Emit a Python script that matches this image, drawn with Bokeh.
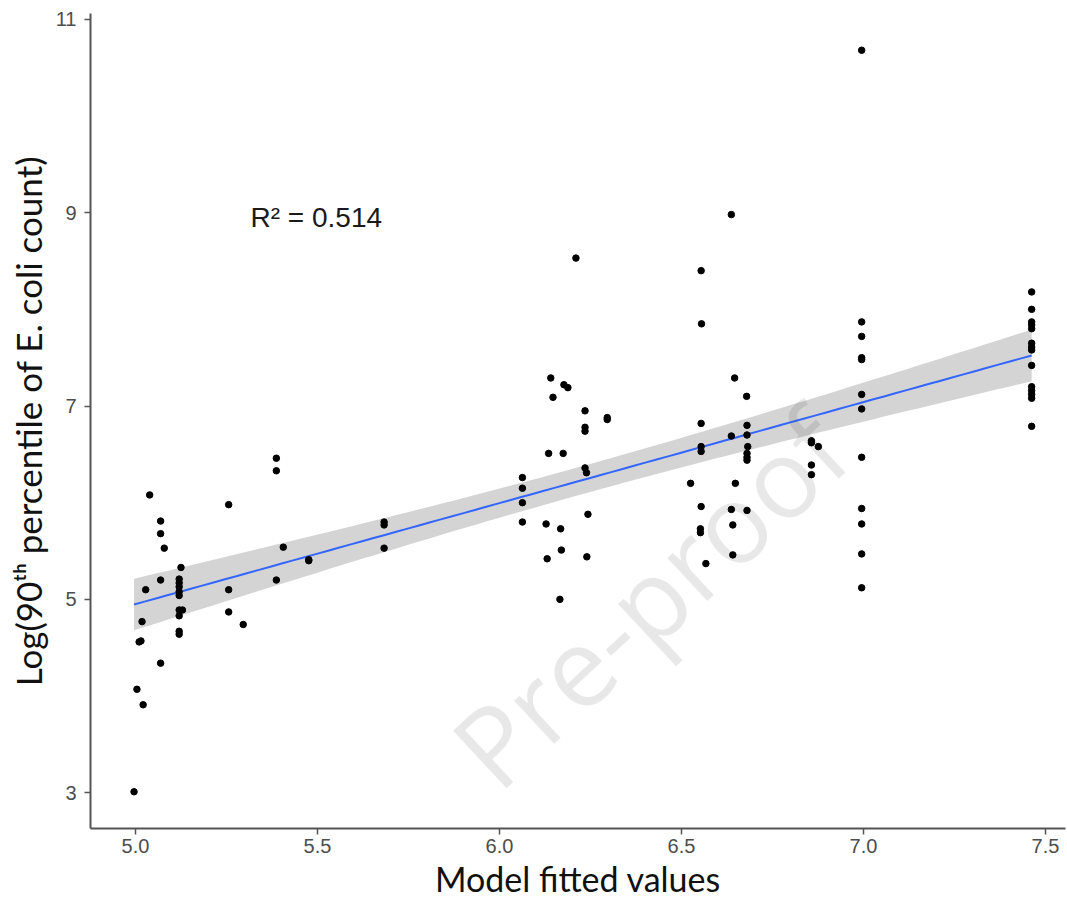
import numpy as np
from bokeh.plotting import figure
from bokeh.models import Range1d, FixedTicker, Label, NumeralTickFormatter
from bokeh.embed import file_html
from bokeh.resources import INLINE

# ---- data ----
fitted = [
    5.039, 5.069, 5.069, 5.079, 5.125, 5.069, 5.028, 5.12, 5.12, 5.12, 5.12, 5.12,
    5.018, 5.12, 5.129, 5.12, 5.12, 5.12, 5.010, 5.015, 5.069, 5.004, 5.021, 4.996,
    5.256, 5.256, 5.256, 5.296,
    5.387, 5.387, 5.406, 5.387, 5.476, 5.476,
    5.683, 5.683, 5.683,
    6.210, 6.141, 6.177, 6.188, 6.147, 6.235, 6.296, 6.296, 6.235, 6.235, 6.135,
    6.175, 6.235, 6.239, 6.063, 6.063, 6.063, 6.063, 6.128, 6.168, 6.243, 6.170,
    6.131, 6.240, 6.166,
    6.637, 6.554, 6.555, 6.646, 6.679, 6.554, 6.680, 6.637, 6.680, 6.554, 6.554,
    6.682, 6.680, 6.680, 6.680, 6.525, 6.648, 6.554, 6.637, 6.680, 6.641, 6.552,
    6.552, 6.641, 6.567,
    6.857, 6.857, 6.876, 6.857, 6.857,
    6.995, 6.995, 6.995, 6.995, 6.995, 6.995, 6.995, 6.995, 6.995, 6.995, 6.995, 6.995,
    7.462, 7.462, 7.462, 7.462, 7.462, 7.462, 7.462, 7.462, 7.462, 7.462, 7.462,
    7.462, 7.462, 7.462,
]
observed = [
    6.08, 5.81, 5.68, 5.53, 5.33, 5.20, 5.10, 5.21, 5.17, 5.13, 5.08, 5.04,
    4.77, 4.89, 4.89, 4.83, 4.67, 4.64, 4.56, 4.57, 4.34, 4.07, 3.91, 3.01,
    5.98, 5.10, 4.87, 4.74,
    6.46, 6.33, 5.54, 5.20, 5.41, 5.40,
    5.80, 5.77, 5.53,
    8.53, 7.29, 7.22, 7.19, 7.09, 6.95, 6.88, 6.86, 6.78, 6.74, 6.51,
    6.51, 6.36, 6.31, 6.26, 6.15, 6.00, 5.80, 5.78, 5.73, 5.88, 5.51,
    5.42, 5.44, 5.00,
    8.98, 8.40, 7.85, 7.29, 7.10, 6.82, 6.80, 6.69, 6.70, 6.58, 6.53,
    6.58, 6.51, 6.47, 6.44, 6.20, 6.20, 5.96, 5.93, 5.92, 5.77, 5.73,
    5.69, 5.46, 5.37,
    6.64, 6.62, 6.58, 6.39, 6.29,
    10.68, 7.87, 7.72, 7.50, 7.48, 7.12, 6.97, 6.47, 5.94, 5.78, 5.47, 5.12,
    8.18, 8.00, 7.87, 7.84, 7.80, 7.65, 7.61, 7.58, 7.42, 7.20, 7.16,
    7.12, 7.08, 6.79,
]
x_ticks = [5.0, 5.5, 6.0, 6.5, 7.0, 7.5]
y_ticks = [3, 5, 7, 9, 11]
r2_text = "R\u00b2 = 0.514"

# ---- linear fit with 95% confidence band ----
xa = np.array(fitted)
ya = np.array(observed)
n = len(xa)
slope, intercept = np.polyfit(xa, ya, 1)
resid = ya - (intercept + slope * xa)
s = np.sqrt(np.sum(resid ** 2) / (n - 2))
sxx = np.sum((xa - xa.mean()) ** 2)
xs = np.linspace(xa.min(), xa.max(), 80)
fit = intercept + slope * xs
half = 1.98 * s * np.sqrt(1.0 / n + (xs - xa.mean()) ** 2 / sxx)

p = figure(width=1067, height=904,
           x_range=Range1d(4.8764, 7.555), y_range=Range1d(2.63, 11.06),
           output_backend="svg", toolbar_location=None,
           min_border_left=90, min_border_right=2, min_border_top=13,
           min_border_bottom=76)
p.xgrid.visible = False
p.ygrid.visible = False
p.outline_line_color = None
p.background_fill_color = "white"

p.varea(x=xs, y1=fit - half, y2=fit + half, fill_color="#d4d4d4", fill_alpha=1.0)
p.line(xs, fit, line_color="#3366FF", line_width=2)
p.scatter(fitted, observed, size=6.5, fill_color="black", line_color="black")

p.add_layout(Label(x=5.316, y=8.95, text=r2_text, text_font="Liberation Sans",
                   text_font_size="28px", text_color="#1a1a1a",
                   text_baseline="middle"))

# watermark (translucent overlay, like the reference's stamp)
wm = Label(x=6.058, y=2.73, text="Pre-proof", angle=0.75,
           text_font="Open Sans", text_font_size="110px",
           text_color="black", text_alpha=0.09)
p.add_layout(wm)

for ax in (p.xaxis, p.yaxis):
    ax.axis_line_color = "#555555"
    ax.axis_line_width = 2
    ax.major_tick_line_color = "#555555"
    ax.major_tick_line_width = 1.5
    ax.major_tick_out = 6
    ax.major_tick_in = 0
    ax.minor_tick_line_color = None
    ax.major_label_text_font = "Liberation Sans"
    ax.major_label_text_font_size = "20px"
    ax.major_label_text_color = "#4d4d4d"
    ax.axis_label_text_font = "Lato"
    ax.axis_label_text_font_style = "normal"
    ax.axis_label_text_color = "#111111"

p.xaxis.axis_label_text_font_size = "34px"
p.yaxis.axis_label_text_font_size = "35px"
p.xaxis.ticker = FixedTicker(ticks=x_ticks)
p.xaxis.formatter = NumeralTickFormatter(format="0.0")
p.yaxis.ticker = FixedTicker(ticks=y_ticks)
p.xaxis.axis_label = "Model fitted values"
p.yaxis.axis_label = "Log(90\u1d57\u02b0 percentile of E. coli count)"
p.xaxis.major_label_standoff = 4
p.yaxis.major_label_standoff = 8
p.xaxis.axis_label_standoff = 2
p.yaxis.axis_label_standoff = 4

open("out.html", "w").write(file_html(p, INLINE))
